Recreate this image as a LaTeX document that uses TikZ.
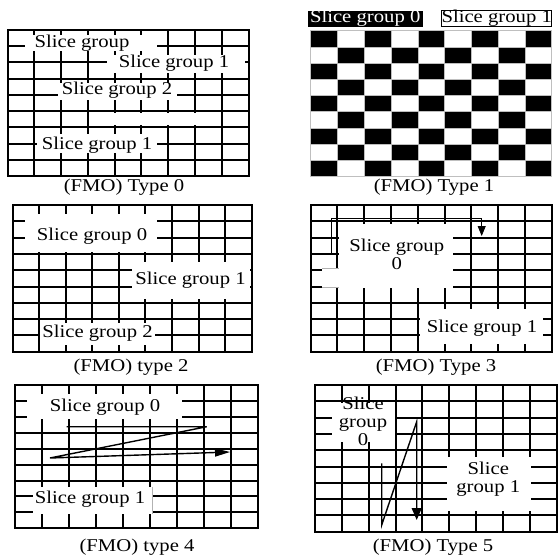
\documentclass[tikz,border=0pt]{standalone}
\usepackage{fontspec}
\setmainfont{Liberation Serif}
\usetikzlibrary{arrows.meta}

\newcommand{\fmogrid}[4]{%
  \foreach \gi in {0,...,9}{%
    \draw[gridline] ({#1+\gi*#3/9},#2) -- ({#1+\gi*#3/9},{#2+#4});
    \draw[gridline] (#1,{#2+\gi*#4/9}) -- ({#1+#3},{#2+\gi*#4/9});
  }}
\newcommand{\wide}[1]{\scalebox{1.15}[1]{#1}}
\newcommand{\stack}[1]{\wide{\begin{tabular}{@{}c@{}}#1\end{tabular}}}

\begin{document}
\begin{tikzpicture}[x=1pt,y=-1pt,
  gridline/.style={line width=2pt,line cap=rect},
  mask/.style={fill=white},
  lbl/.style={inner sep=0pt,font=\fontsize{18}{18}\selectfont},
  scan/.style={line width=1.4pt},
  thinscan/.style={line width=0.8pt},
  faint/.style={line width=0.6pt,gray!60}]
\useasboundingbox[fill=white] (0,0) rectangle (557,559);

\fmogrid{7.5}{30}{241}{146}
\fill[mask] (25,35) rectangle (157,51);
\fill[mask] (107,55) rectangle (245,73);
\fill[mask] (58,83) rectangle (177,100);
\fill[mask] (98,113) rectangle (218,125);
\fill[mask] (37,134) rectangle (157,153);
\node[lbl] (t0a) at (82,43) {\wide{Slice group}};
\node[lbl] (t0b) at (174,63) {\wide{Slice group 1}};
\node[lbl] (t0c) at (117,90) {\wide{Slice group 2}};
\node[lbl] (t0d) at (97,145) {\wide{Slice group 1}};
\node[lbl] (cap0) at (124,187) {\wide{(FMO) Type 0}};

\foreach \ci in {0,...,8}{\foreach \ri in {0,...,8}{
  \pgfmathtruncatemacro{\cs}{\ci+\ri}
  \ifodd\cs \def\cellcol{white}\else\def\cellcol{black}\fi
  \filldraw[fill=\cellcol,draw=gray!50,line width=0.6pt]
    ({310.7+\ci*26.78},{30.7+\ri*16.22}) rectangle ++(26.78,16.22);
}}
\node[lbl,fill=black,text=white,minimum width=115pt,text height=12pt,text depth=4pt] (key0) at (365.2,18.7) {\wide{Slice group 0}};
\node[lbl,draw,line width=1pt,fill=white,minimum width=110pt,text height=12pt,text depth=4pt] (key1) at (496.7,18.3) {\wide{Slice group 1}};
\node[lbl] (cap1) at (434,187) {\wide{(FMO) Type 1}};

\fmogrid{12.7}{205}{239}{146.7}
\fill[mask] (25,214) rectangle (157,251.5);
\fill[mask] (132,262) rectangle (249.5,299);
\fill[mask] (40,323) rectangle (155,345);
\node[lbl] (t2a) at (92,236) {\wide{Slice group 0}};
\node[lbl] (t2b) at (190.5,280) {\wide{Slice group 1}};
\node[lbl] (t2c) at (97.5,333) {\wide{Slice group 2}};
\node[lbl] (cap2) at (131,366.7) {\wide{(FMO) type 2}};

\fmogrid{310.7}{205}{241}{146.7}
\fill[mask] (339,224) rectangle (453,288);
\fill[mask] (322,268) rectangle (339,288);
\draw[faint] (322,268.5) -- (339,268.5) (322,287) -- (339,287);
\fill[mask] (420,309) rectangle (543,344);
\node[lbl] (t3a) at (396.7,257) {\stack{Slice group\\0}};
\node[lbl] (t3c) at (482,328) {\wide{Slice group 1}};
\coordinate (s3a) at (331.7,253.3);
\coordinate (s3b) at (481.7,218.3);
\coordinate (s3c) at (481.7,236);
\draw[thinscan,-{Triangle[width=8pt,length=10pt]}] (s3a) |- (s3b) -- (s3c);
\node[lbl] (cap3) at (436,366.7) {\wide{(FMO) Type 3}};

\fmogrid{15}{385}{243.3}{143.3}
\fill[mask] (27,394) rectangle (182,419);
\fill[mask] (33,487) rectangle (152,514);
\draw[faint] (152,487) -- (152,514);
\node[lbl] (t4a) at (105,406.7) {\wide{Slice group 0}};
\node[lbl] (t4b) at (90,499) {\wide{Slice group 1}};
\coordinate (s4a) at (66.7,426.7);
\coordinate (s4b) at (206.7,426.7);
\coordinate (s4c) at (50,458);
\coordinate (s4d) at (230,452);
\draw[scan,-{Triangle[width=8pt,length=15pt]}] (s4a) -- (s4b) -- (s4c) -- (s4d);
\node[lbl] (cap4) at (137,547) {\wide{(FMO) type 4}};

\fmogrid{315}{385}{241.7}{146.7}
\fill[mask] (332,402.5) rectangle (394.5,442);
\fill[mask] (447,457) rectangle (531,511);
\node[lbl] (t5a) at (363,424) {\stack{Slice\\group\\0}};
\draw[gridline] (332,401.3) -- (394.5,401.3);
\node[lbl] (t5b) at (488.3,480) {\stack{Slice\\group 1}};
\coordinate (s5a) at (381.7,463.3);
\coordinate (s5b) at (381.7,525);
\coordinate (s5c) at (416.7,421.7);
\coordinate (s5d) at (416.7,520);
\draw[scan,-{Triangle[width=10pt,length=12pt]}] (s5a) -- (s5b) -- (s5c) -- (s5d);
\node[lbl] (cap5) at (433,547) {\wide{(FMO) Type 5}};
\end{tikzpicture}
\end{document}
